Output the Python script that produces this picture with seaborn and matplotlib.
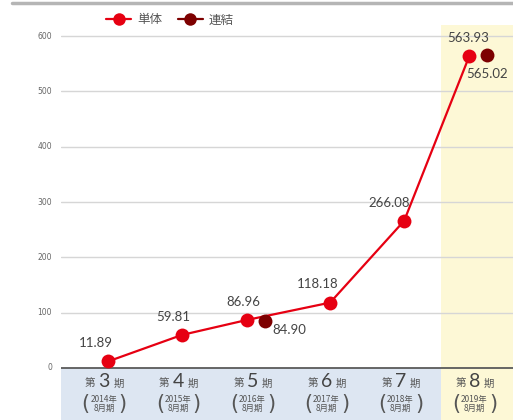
import matplotlib.pyplot as plt
from matplotlib.lines import Line2D
import seaborn as sns
import pandas as pd

# data
period_numbers = ['3', '4', '5', '6', '7', '8']
fiscal_years = ['2014年', '2015年', '2016年', '2017年', '2018年', '2019年']
tandoku = [11.89, 59.81, 86.96, 118.18, 266.08, 563.93]      # 単体
renketsu = [None, None, 84.90, None, None, 565.02]            # 連結
y_ticks = [0, 100, 200, 300, 400, 500, 600]

RED = '#e60012'
DARK_RED = '#7d0000'
GRAY = '#555555'
NUM_FONT = ['Lato', 'DejaVu Sans']

sns.set_theme(style='white')
plt.rcParams['font.family'] = ['Noto Sans CJK JP', 'DejaVu Sans']

fig = plt.figure(figsize=(5.13, 4.2), dpi=100)
ax = fig.add_axes([61 / 513, 0, 1 - 61 / 513, 395 / 420])

x_pos = list(range(len(period_numbers)))
# single-company and consolidated points sit side by side when both exist
offset = 0.12
x_tan = [x - offset if r is not None else x for x, r in zip(x_pos, renketsu)]
x_ren = [x + offset for x, r in zip(x_pos, renketsu) if r is not None]
y_ren = [r for r in renketsu if r is not None]

df_tan = pd.DataFrame({'x': x_tan, 'y': tandoku})
df_ren = pd.DataFrame({'x': x_ren, 'y': y_ren})

x_left, x_right = -0.635, 5.47
y_bottom, y_top = -94, 620

# background bands
ax.axvspan(4.5, x_right, color='#fdf8d6', zorder=0, lw=0)
ax.fill_between([x_left, 4.5], y_bottom, 0, color='#dde6f2', zorder=0, lw=0)

# gridlines
for t in y_ticks[1:]:
    ax.axhline(t, color='#d6d6d6', lw=1, zorder=1)
ax.axhline(0, color='#5a5a5a', lw=1.3, zorder=2)

sns.lineplot(data=df_tan, x='x', y='y', ax=ax, color=RED, lw=1.6,
             marker='o', markersize=10, markeredgewidth=0, zorder=4,
             sort=False)
sns.scatterplot(data=df_ren, x='x', y='y', ax=ax, color=DARK_RED, s=100,
                linewidth=0, zorder=4)

# value labels
label_offsets = [(-0.17, 22), (-0.12, 22), (-0.05, 22), (-0.17, 22), (-0.2, 22), (-0.02, 22)]
for x, y, (dx, dy) in zip(x_tan, tandoku, label_offsets):
    ax.text(x + dx, y + dy, f'{y:.2f}', ha='center', va='bottom',
            fontsize=9.5, color='#444444', family=NUM_FONT, zorder=5)
ren_offsets = [(0.1, -6, 'left'), (0.0, -22, 'center')]
for x, y, (dx, dy, ha) in zip(x_ren, y_ren, ren_offsets):
    ax.text(x + dx, y + dy, f'{y:.2f}', ha=ha, va='top',
            fontsize=9.5, color='#444444', family=NUM_FONT, zorder=5)

# category labels in the band
for x, num, yr in zip(x_pos, period_numbers, fiscal_years):
    cx = x - 0.05
    ax.text(cx - 0.19, -28, '第', ha='center', va='center', fontsize=7.5, color=GRAY)
    ax.text(cx, -25, num, ha='center', va='center', fontsize=14, color='#444444',
            family=NUM_FONT)
    ax.text(cx + 0.2, -28, '期', ha='center', va='center', fontsize=7.5, color=GRAY)
    ax.text(cx, -65, f'{yr}\n8月期', ha='center', va='center', fontsize=6,
            color=GRAY, linespacing=0.95)
    ax.text(cx - 0.25, -65, '(', ha='center', va='center', fontsize=15,
            color=GRAY, family='DejaVu Sans')
    ax.text(cx + 0.25, -65, ')', ha='center', va='center', fontsize=15,
            color=GRAY, family='DejaVu Sans')

ax.set_xlim(x_left, x_right)
ax.set_ylim(y_bottom, y_top)
ax.set_xticks([])
ax.set_yticks([])
ax.set_xlabel('')
ax.set_ylabel('')
for s in ax.spines.values():
    s.set_visible(False)

# y tick labels sit left of the axes
for t in y_ticks:
    ax.text(x_left - 0.12, t, str(t), ha='right', va='center', fontsize=5.5,
            color='#666666', family='DejaVu Sans', clip_on=False)

# legend
handles = [
    Line2D([], [], color=RED, lw=1.6, marker='o', markersize=9, markeredgewidth=0),
    Line2D([], [], color=DARK_RED, lw=1.6, marker='o', markersize=9, markeredgewidth=0),
]
fig.legend(handles, ['単体', '連結'], loc='center left',
           bbox_to_anchor=(95 / 513, 1 - 20 / 420), ncol=2, frameon=False,
           fontsize=9, handlelength=2.0, handletextpad=0.5, columnspacing=1.2,
           labelcolor=GRAY)

# thin rule across the top
fig.add_artist(Line2D([12 / 513, 1], [1 - 3 / 420, 1 - 3 / 420],
                      color='#b5b5b5', lw=2.5))

fig.savefig('out.png', dpi=100)
